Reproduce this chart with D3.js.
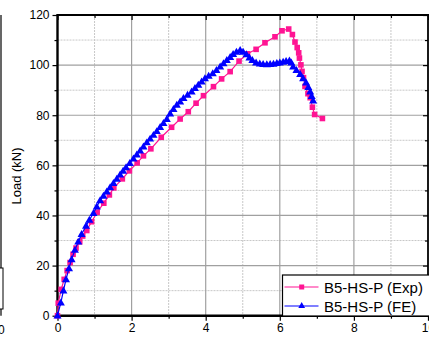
<!DOCTYPE html>
<html><head><meta charset="utf-8">
<script src="https://cdn.jsdelivr.net/npm/d3@7"></script>
<style>body{margin:0;background:#fff;} svg{display:block;font-family:"Liberation Sans",Arial,sans-serif;}</style>
</head><body>
<script>
const expDisp = [0,0.02,0.1,0.18,0.26,0.34,0.42,0.5,0.6,0.68,0.79,0.92,1.07,1.25,1.4,1.52,1.75,1.94,2.15,2.32,2.52,2.8,3.08,3.31,3.53,3.74,3.94,4.21,4.43,4.66,4.9,5.13,5.36,5.6,5.87,6.06,6.24,6.34,6.41,6.47,6.51,6.53,6.57,6.6,6.64,6.68,6.76,6.82,6.88,6.94,7.15];
const expLoad = [0,5,10.5,14.5,18,21.2,24.5,27,29.5,31.8,34,37.5,41.3,44.9,48.2,51,54.6,57.8,61,63.8,66.6,71.2,75.2,78.5,81.4,84.8,87.8,91.4,94.5,97.4,101.6,104.5,106.3,108.9,111.3,113.7,114.4,112.2,109.2,107,104.9,102.8,100.1,97.5,95,91.5,88.6,87,83.2,80.3,78.7];
const feDisp = [0,0.09,0.16,0.23,0.31,0.38,0.47,0.56,0.65,0.77,0.86,0.97,1.06,1.15,1.24,1.33,1.42,1.51,1.6,1.69,1.77,1.85,1.95,2.05,2.14,2.23,2.32,2.41,2.5,2.59,2.68,2.77,2.86,2.95,3.04,3.13,3.22,3.31,3.4,3.51,3.62,3.71,3.8,3.89,3.98,4.08,4.19,4.29,4.39,4.48,4.57,4.66,4.74,4.83,4.93,5.01,5.1,5.18,5.26,5.36,5.46,5.55,5.65,5.74,5.83,5.92,6.0,6.09,6.17,6.26,6.31,6.36,6.45,6.55,6.63,6.71,6.77,6.82,6.86,6.9];
const feLoad = [0,5.2,10,14.5,18.9,22.5,26.2,29.5,32.5,35.8,38.2,40.9,43.5,46,47.8,49.5,51.2,52.9,54.6,56.3,57.8,59.2,60.9,62.7,64.3,65.9,67.5,69.1,70.6,72.1,73.6,75.2,76.8,78.4,80.6,82.4,84.1,85.4,86.8,88.1,89.4,90.8,92.1,93.4,94.7,95.7,96.7,98,99.4,100.7,102,103.2,104.4,105.3,106,105.3,104.3,103,102,101,100.6,100.4,100.3,100.4,100.5,100.8,101,101.3,101.6,101.8,101,99.4,98,96.4,94.7,93,91.2,89.4,87.6,85.8];
const xTicks = [0,2,4,6,8,10];
const yTicks = [0,20,40,60,80,100,120];
const seriesNames = ["B5-HS-P (Exp)","B5-HS-P (FE)"];
const yTitle = "Load (kN)";

const W=429,H=337;
const svg=d3.select("body").append("svg").attr("width",W).attr("height",H);
const x=d3.scaleLinear().domain([0,10]).range([57.5,428]);
const y=d3.scaleLinear().domain([0,120]).range([315.7,15]);
const X0=x(0),X1=x(10),Y0=y(0),Y1=y(120);

// remnants of neighbouring panel at left edge
svg.append("line").attr("x1",1).attr("x2",1).attr("y1",Y1).attr("y2",Y0).attr("stroke","#000").attr("stroke-width",1.2);
svg.append("rect").attr("x",-60).attr("y",268).attr("width",63).attr("height",41).attr("fill","#fff").attr("stroke","#000").attr("stroke-width",1);
svg.append("text").attr("x",-2).attr("y",334).attr("text-anchor","middle").attr("font-size",12).text("10");

// grid
const g=svg.append("g");
const minorX=d3.range(1,10,2), minorY=d3.range(10,120,20);
g.selectAll(".mx").data(minorX).join("line").attr("x1",d=>x(d)).attr("x2",d=>x(d)).attr("y1",Y1).attr("y2",Y0).attr("stroke","#c8c8c8").attr("stroke-dasharray","2,1").attr("stroke-width",1);
g.selectAll(".my").data(minorY).join("line").attr("y1",d=>y(d)).attr("y2",d=>y(d)).attr("x1",X0).attr("x2",X1).attr("stroke","#c8c8c8").attr("stroke-dasharray","2,1").attr("stroke-width",1);
g.selectAll(".Mx").data(xTicks.slice(1,-1)).join("line").attr("x1",d=>x(d)).attr("x2",d=>x(d)).attr("y1",Y1).attr("y2",Y0).attr("stroke","#a0a0a0").attr("stroke-width",1.2);
g.selectAll(".My").data(yTicks.slice(1,-1)).join("line").attr("y1",d=>y(d)).attr("y2",d=>y(d)).attr("x1",X0).attr("x2",X1).attr("stroke","#a0a0a0").attr("stroke-width",1.2);

// axes
function styleAxis(sel){sel.selectAll("path").remove();sel.selectAll("line").attr("stroke","#000").attr("stroke-width",1.2);sel.selectAll("text").attr("font-size",12).attr("fill","#000");}
const bottom=svg.append("g").attr("transform",`translate(0,${Y0})`).call(d3.axisBottom(x).tickValues(xTicks).tickSize(5).tickPadding(3).tickFormat(d3.format("d")));
styleAxis(bottom);
svg.append("g").attr("transform",`translate(0,${Y0})`).call(d3.axisBottom(x).tickValues(minorX).tickSize(3).tickFormat("")).call(styleAxis);
const left=svg.append("g").attr("transform",`translate(${X0},0)`).call(d3.axisLeft(y).tickValues(yTicks).tickSize(5).tickPadding(3).tickFormat(d3.format("d")));
styleAxis(left);
svg.append("g").attr("transform",`translate(${X0},0)`).call(d3.axisLeft(y).tickValues(minorY).tickSize(3).tickFormat("")).call(styleAxis);
svg.append("g").attr("transform",`translate(0,${Y1})`).call(d3.axisTop(x).tickValues(xTicks).tickSize(-5).tickFormat("")).call(styleAxis);
svg.append("g").attr("transform",`translate(0,${Y1})`).call(d3.axisTop(x).tickValues(minorX).tickSize(-3).tickFormat("")).call(styleAxis);
svg.append("g").attr("transform",`translate(${X1},0)`).call(d3.axisRight(y).tickValues(yTicks).tickSize(-5).tickFormat("")).call(styleAxis);
svg.append("g").attr("transform",`translate(${X1},0)`).call(d3.axisRight(y).tickValues(minorY).tickSize(-3).tickFormat("")).call(styleAxis);

// frame
svg.append("line").attr("x1",X0).attr("x2",X1+2).attr("y1",Y1).attr("y2",Y1).attr("stroke","#000").attr("stroke-width",1.8);
svg.append("line").attr("x1",X1).attr("x2",X1).attr("y1",Y1).attr("y2",Y0).attr("stroke","#000").attr("stroke-width",1.8);
svg.append("line").attr("x1",X0).attr("x2",X0).attr("y1",Y1-1).attr("y2",Y0+1).attr("stroke","#000").attr("stroke-width",2.4);
svg.append("line").attr("x1",X0-1).attr("x2",X1+2).attr("y1",Y0).attr("y2",Y0).attr("stroke","#000").attr("stroke-width",2.4);

svg.append("text").attr("transform",`translate(21,176) rotate(-90)`).attr("text-anchor","middle").attr("font-size",13).text(yTitle);

// series
const pink="#ff1493", blue="#0000ff";
const line=d3.line().x(d=>x(d[0])).y(d=>y(d[1]));
const expPts=expDisp.map((d,i)=>[d,expLoad[i]]);
const fePts=feDisp.map((d,i)=>[d,feLoad[i]]);
svg.append("path").datum(expPts).attr("d",line).attr("fill","none").attr("stroke",pink).attr("stroke-width",1.2);
svg.selectAll(".sq").data(expPts).join("rect").attr("x",d=>x(d[0])-2.8).attr("y",d=>y(d[1])-2.8).attr("width",5.6).attr("height",5.6).attr("fill",pink);
svg.append("path").datum(fePts).attr("d",line).attr("fill","none").attr("stroke",blue).attr("stroke-width",1.2);
const tri=d3.symbol().type(d3.symbolTriangle).size(28);
svg.selectAll(".tr").data(fePts).join("path").attr("d",tri).attr("transform",d=>`translate(${x(d[0])},${y(d[1])+0.5})`).attr("fill",blue);

// legend
const lg=svg.append("g");
lg.append("rect").attr("x",282.5).attr("y",275).attr("width",150).attr("height",41).attr("fill","#fff").attr("stroke","#000").attr("stroke-width",1.2);
const rows=[{c:pink,y:287,t:"sq"},{c:blue,y:306,t:"tr"}];
rows.forEach((r,i)=>{
  lg.append("line").attr("x1",284.5).attr("x2",318.5).attr("y1",r.y).attr("y2",r.y).attr("stroke",r.c).attr("stroke-width",1.2);
  if(r.t==="sq") lg.append("rect").attr("x",301.7-2.5).attr("y",r.y-2.5).attr("width",5).attr("height",5).attr("fill",r.c);
  else lg.append("path").attr("d",d3.symbol().type(d3.symbolTriangle).size(20)).attr("transform",`translate(301.7,${r.y})`).attr("fill",r.c);
  lg.append("text").attr("x",324).attr("y",r.y+5.5).attr("font-size",15).text(seriesNames[i]);
});
</script>
</body></html>
